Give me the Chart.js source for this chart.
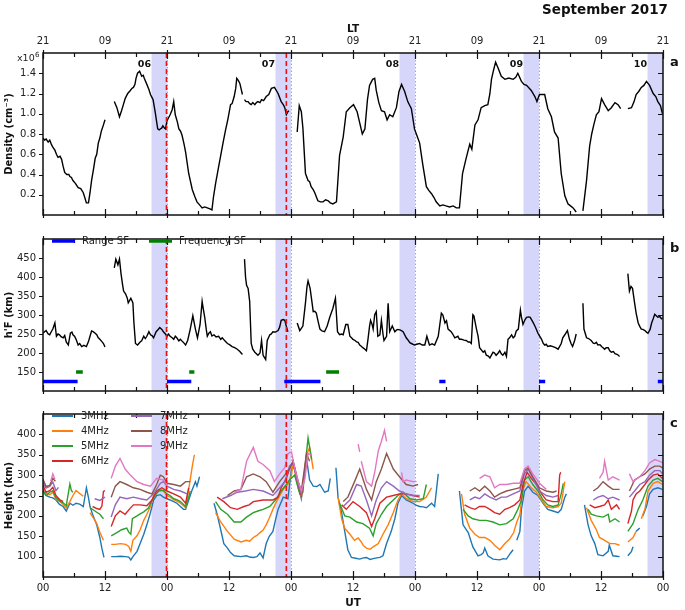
<!DOCTYPE html>
<html><head><meta charset="utf-8">
<script src="https://cdn.jsdelivr.net/npm/chart.js@4/dist/chart.umd.min.js"></script>
<style>
html,body{margin:0;padding:0;background:#fff;}
#wrap{position:relative;width:685px;height:610px;overflow:hidden;background:#fff;}
canvas{position:absolute;left:0;}
</style></head><body>
<div id="wrap">
<canvas id="cA" width="685" height="228" style="top:0px;width:685px;height:228px"></canvas>
<canvas id="cB" width="685" height="178" style="top:226px;width:685px;height:178px"></canvas>
<canvas id="cC" width="685" height="209" style="top:401px;width:685px;height:209px"></canvas>
</div>
<script>
// ---------------- DATA ----------------
const titleText = 'September 2017';
const dayLabels = ['06','07','08','09','10'];
const nightStartUT = 21;            // shaded band start each day (UT hour)
const eventHours = [23.9, 47.1];    // red dashed lines (UT hours from start)
const xTickHours = [0,12,24,36,48,60,72,84,96,108,120];

// Panel a: electron density (x10^6 cm^-3) [UT hour, value]; null = data gap
const density = [
[0,0.76],[0.3,0.74],[0.6,0.75],[1.0,0.72],[1.3,0.74],[1.6,0.70],[1.9,0.67],[2.3,0.64],[2.6,0.60],[2.9,0.57],[3.3,0.58],[3.6,0.55],[3.9,0.48],[4.2,0.42],[4.6,0.40],[5.0,0.40],[5.2,0.38],[5.5,0.37],[5.8,0.34],[6.3,0.31],[6.8,0.27],[7.3,0.26],[7.8,0.22],[8.1,0.17],[8.4,0.12],[8.8,0.12],[9.1,0.22],[9.4,0.34],[9.8,0.46],[10.1,0.56],[10.4,0.60],[10.7,0.71],[11.0,0.76],[11.3,0.83],[11.7,0.89],[12.0,0.94],[13.0,null],
[13.8,1.12],[14.3,1.06],[14.8,0.97],[15.2,1.03],[15.5,1.08],[15.9,1.15],[16.4,1.20],[16.9,1.23],[17.2,1.25],[17.5,1.26],[17.8,1.29],[18.0,1.35],[18.3,1.40],[18.7,1.42],[19.1,1.37],[19.4,1.38],[19.6,1.35],[20.1,1.29],[20.5,1.24],[20.8,1.19],[21.3,1.14],[21.7,1.02],[22.2,0.85],[22.5,0.84],[22.7,0.85],[23.0,0.86],[23.2,0.88],[23.5,0.86],[23.7,0.85],[24.0,0.93],[24.3,0.96],[24.6,0.99],[25.0,1.04],[25.3,1.12],[25.6,0.99],[26.0,0.92],[26.3,0.85],[26.6,0.83],[26.9,0.79],[27.3,0.70],[27.6,0.62],[28.2,0.41],[28.9,0.25],[29.4,0.18],[29.8,0.13],[30.3,0.10],[30.8,0.07],[31.3,0.08],[31.8,0.07],[32.3,0.06],[32.7,0.05],[33.0,0.18],[33.4,0.31],[33.9,0.45],[34.4,0.59],[34.8,0.70],[35.3,0.83],[35.8,0.95],[36.3,1.09],[36.6,1.10],[37.0,1.17],[37.3,1.25],[37.5,1.35],[37.8,1.33],[38.1,1.30],[38.6,1.19],[38.8,null],
[39.0,1.14],[39.3,1.12],[39.7,1.12],[40.0,1.10],[40.3,1.09],[40.6,1.11],[41.0,1.09],[41.3,1.11],[41.6,1.12],[42.0,1.11],[42.3,1.14],[42.7,1.13],[43.2,1.17],[43.7,1.19],[44.2,1.25],[44.8,1.26],[45.5,1.20],[46.1,1.12],[46.5,1.09],[46.8,1.06],[47.1,0.99],[47.4,1.02],[47.6,1.03],[48.4,null],
[49.2,0.82],[49.6,1.08],[50.0,1.02],[50.3,0.86],[50.8,0.41],[51.3,0.34],[51.6,0.33],[51.9,0.28],[52.3,0.25],[52.6,0.22],[53.2,0.14],[53.7,0.13],[54.2,0.13],[54.7,0.15],[55.2,0.14],[55.6,0.12],[56.1,0.11],[56.8,0.13],[57.4,0.59],[58.1,0.77],[58.7,1.02],[59.4,1.06],[60.1,1.09],[60.8,1.02],[61.3,0.91],[61.8,0.80],[62.3,0.85],[62.8,1.14],[63.2,1.28],[63.8,1.34],[64.2,1.35],[64.5,1.23],[65.0,1.11],[65.5,1.03],[66.1,1.02],[66.6,0.94],[67.1,0.99],[67.7,0.97],[68.4,1.06],[68.9,1.22],[69.4,1.29],[70.0,1.22],[70.6,1.12],[71.3,1.05],[71.9,0.85],[72.4,0.78],[72.9,0.71],[73.5,0.50],[74.2,0.28],[74.7,0.24],[75.2,0.21],[75.7,0.17],[76.1,0.13],[76.8,0.09],[77.4,0.10],[78.0,0.09],[78.7,0.08],[79.4,0.09],[80.0,0.07],[80.6,0.07],[81.2,0.41],[81.8,0.54],[82.3,0.64],[82.6,0.70],[83.0,0.65],[83.6,0.89],[84.2,0.94],[84.8,1.06],[85.5,1.08],[86.1,1.09],[86.5,1.20],[86.8,1.34],[87.2,1.43],[87.6,1.51],[88.1,1.45],[88.7,1.37],[89.4,1.34],[90.0,1.35],[90.3,1.35],[91.0,1.34],[91.5,1.36],[91.9,1.40],[92.6,1.32],[93.1,1.29],[93.6,1.28],[94.5,1.23],[95.2,1.17],[95.6,1.12],[96.1,1.19],[96.6,1.19],[97.1,1.19],[97.7,1.05],[98.4,0.97],[99.0,0.82],[99.7,0.76],[100.3,0.41],[101.0,0.19],[101.6,0.11],[102.1,0.09],[102.6,0.07],[103.2,0.03],[103.8,null],
[104.5,0.04],[105.2,0.34],[105.8,0.68],[106.2,0.80],[106.6,0.89],[107.1,0.99],[107.6,1.02],[108.1,1.15],[108.7,1.09],[109.4,1.03],[110.0,1.06],[110.7,1.11],[111.3,1.09],[111.8,1.05],[112.5,null],
[113.2,1.05],[113.9,1.06],[114.4,1.12],[114.8,1.19],[115.3,1.22],[115.8,1.26],[116.3,1.28],[116.8,1.32],[117.4,1.28],[118.1,1.20],[118.6,1.17],[119.0,1.12],[119.5,1.08],[119.9,1.00]
];

// Panel b: h'F (km)
const hF = [
[0,252],[0.3,256],[0.6,259],[1.0,250],[1.3,248],[1.6,256],[1.9,263],[2.3,279],[2.6,244],[2.9,250],[3.2,248],[3.5,243],[3.9,240],[4.2,246],[4.5,229],[4.9,221],[5.3,252],[5.6,255],[5.8,248],[6.1,244],[6.4,236],[6.8,221],[7.1,225],[7.5,217],[7.9,220],[8.4,217],[8.8,230],[9.1,244],[9.4,258],[9.7,256],[10.1,252],[10.4,248],[10.7,240],[11.0,236],[11.4,230],[11.7,225],[12.0,216],[13.0,null],
[13.8,424],[14.1,447],[14.5,432],[14.8,447],[15.1,409],[15.4,380],[15.6,363],[16.0,355],[16.3,345],[16.5,332],[17.0,344],[17.2,338],[17.4,332],[17.6,279],[17.9,225],[18.3,221],[18.8,229],[19.1,232],[19.5,244],[19.8,238],[20.1,244],[20.5,256],[20.8,248],[21.1,246],[21.4,240],[21.9,256],[22.3,262],[22.6,267],[23.0,262],[23.3,256],[23.7,250],[24.0,244],[24.3,250],[24.6,244],[25.0,240],[25.3,236],[25.6,244],[25.9,240],[26.3,232],[26.6,236],[27.0,230],[27.3,226],[27.6,221],[28.0,233],[28.5,263],[29.0,298],[29.5,263],[29.9,240],[30.4,275],[30.8,336],[31.0,318],[31.3,294],[31.6,262],[31.8,244],[32.1,252],[32.4,256],[32.7,245],[33.1,248],[33.5,242],[34.0,244],[34.4,236],[34.7,240],[35.2,232],[35.7,225],[36.1,222],[36.6,217],[37.1,214],[37.6,210],[38.1,204],[38.6,196],[38.8,null],
[39.0,447],[39.2,400],[39.4,378],[39.7,370],[40.0,336],[40.3,225],[40.6,210],[41.0,202],[41.3,198],[41.6,194],[42.0,200],[42.3,233],[42.6,194],[43.1,183],[43.4,233],[43.9,248],[44.2,250],[44.5,256],[45.0,255],[45.5,259],[45.8,268],[46.1,286],[46.5,288],[46.8,286],[47.1,270],[47.4,256],[48.3,null],
[49.2,279],[49.7,259],[50.3,271],[50.8,332],[51.1,375],[51.3,390],[51.7,370],[52.0,340],[52.3,309],[52.6,310],[52.9,305],[53.3,280],[53.6,263],[54.0,258],[54.5,256],[55.0,271],[55.5,294],[56.1,317],[56.6,344],[57.0,256],[57.4,248],[57.8,250],[58.1,248],[58.6,275],[59.0,275],[59.4,244],[59.7,240],[60.0,236],[60.4,233],[60.7,229],[61.0,228],[61.3,221],[61.6,218],[61.9,214],[62.3,210],[62.6,206],[62.9,236],[63.2,270],[63.4,286],[63.7,275],[63.9,263],[64.2,301],[64.5,309],[64.8,244],[65.2,248],[65.5,286],[65.8,250],[66.0,233],[66.5,244],[66.8,331],[67.1,256],[67.6,271],[68.1,256],[68.4,260],[68.7,262],[69.2,260],[69.7,256],[70.3,240],[70.6,235],[71.0,227],[71.3,225],[71.9,221],[72.3,223],[72.9,225],[73.4,221],[73.9,221],[74.3,244],[74.8,221],[75.3,224],[75.8,221],[76.5,244],[77.1,305],[77.4,300],[77.8,279],[78.1,285],[78.4,263],[79.0,256],[79.3,250],[79.7,240],[80.3,244],[80.6,236],[81.0,236],[81.5,234],[81.9,233],[82.3,229],[82.6,229],[82.9,225],[83.2,301],[83.4,298],[83.9,263],[84.2,245],[84.5,214],[85.2,202],[85.5,206],[85.8,194],[86.2,192],[86.5,187],[87.1,202],[87.4,200],[87.7,194],[88.1,200],[88.4,206],[88.7,198],[89.0,194],[89.4,202],[89.7,191],[90.0,236],[90.3,240],[90.7,248],[91.0,240],[91.3,244],[91.6,258],[92.0,263],[92.4,313],[92.6,295],[92.9,275],[93.3,288],[93.6,294],[94.0,295],[94.3,294],[94.8,282],[95.2,271],[95.5,262],[95.8,252],[96.1,245],[96.5,236],[96.8,226],[97.1,221],[97.4,223],[97.7,217],[98.2,219],[98.7,217],[99.2,214],[99.7,210],[100.3,225],[100.6,240],[101.0,248],[101.5,259],[101.9,236],[102.2,225],[102.5,217],[102.9,233],[103.2,250],[103.8,null],
[104.5,331],[104.7,263],[105.2,240],[105.6,238],[106.1,233],[106.5,226],[106.8,225],[107.1,228],[107.4,221],[107.8,222],[108.1,217],[108.4,214],[108.7,210],[109.0,214],[109.4,214],[109.7,206],[110.0,202],[110.4,204],[110.7,198],[111.2,196],[111.6,191],[112.4,null],
[113.2,409],[113.5,363],[113.8,375],[114.1,370],[114.5,332],[114.8,305],[115.2,279],[115.5,270],[115.8,263],[116.1,262],[116.5,259],[116.8,255],[117.1,252],[117.5,262],[117.8,279],[118.1,290],[118.4,302],[118.7,298],[119.0,294],[119.4,296],[119.7,290],[119.9,292]
];

// Spread-F occurrence intervals [start, end] (UT hours)
const rangeSF = [[0,6.7],[24.0,28.7],[46.7,53.7],[76.7,77.9],[96.0,97.2],[119.0,120]];
const freqSF  = [[6.4,7.7],[28.3,29.3],[54.8,57.3]];
const rangeSFLevel = 125, freqSFLevel = 150;

// Panel c: virtual heights (km) for each sounding frequency
const freqLabels = ['3MHz','4MHz','5MHz','6MHz','7MHz','8MHz','9MHz'];
const h3 = [
[0,261],[0.6,250],[1.3,246],[1.9,244],[2.5,239],[3.2,228],[3.9,223],[4.5,212],[5.2,231],[5.8,226],[6.4,231],[7.1,229],[7.8,223],[8.4,269],[8.8,245],[9.1,223],[9.7,200],[10.4,178],[11.0,147],[11.4,120],[11.8,98],[12.5,null],
[13.2,100],[14.0,100],[15.0,101],[16.0,100],[16.6,99],[17.0,92],[17.4,100],[18.2,113],[18.8,132],[19.5,155],[20.1,178],[20.8,208],[21.4,239],[22.0,250],[22.7,252],[23.3,246],[24.0,242],[24.6,239],[25.3,235],[25.9,231],[26.6,223],[27.2,216],[27.6,216],[28.2,239],[28.9,265],[29.5,284],[29.8,273],[30.3,296],[31.5,null],
[33.1,231],[33.7,204],[34.4,166],[35.0,132],[35.7,121],[36.3,110],[37.0,102],[38.3,100],[39.4,102],[40.0,99],[40.7,98],[41.4,100],[42.0,109],[42.6,97],[43.2,132],[43.8,150],[44.5,162],[45.0,190],[45.5,216],[46.5,246],[47.4,242],[48.1,315],[48.7,318],[49.4,273],[50.0,242],[50.5,290],[51.0,341],[51.6,288],[52.3,273],[53.0,272],[53.6,277],[54.5,258],[55.2,261],[55.6,292],[56.2,null],
[56.7,318],[57.1,246],[57.8,208],[58.4,162],[59.0,117],[59.7,98],[60.5,96],[61.3,94],[62.0,97],[62.6,98],[63.3,93],[63.9,95],[64.6,97],[65.2,98],[65.8,102],[66.5,132],[67.4,162],[68.1,193],[68.7,231],[69.4,250],[70.3,239],[71.0,235],[71.6,231],[72.3,226],[72.9,223],[73.6,222],[74.2,220],[75.2,231],[75.8,223],[76.5,303],[78,null],
[80.6,261],[81.3,178],[82.3,159],[83.2,124],[84.2,102],[84.8,105],[85.2,109],[85.5,121],[86.1,102],[87.1,94],[88.4,92],[89.1,95],[89.7,94],[90.5,109],[91.0,117],[91.4,null],
[91.7,140],[92.3,162],[92.6,216],[93.2,261],[93.9,273],[94.8,258],[95.8,250],[96.8,231],[97.7,216],[98.7,212],[99.7,208],[100.3,216],[101.0,246],[101.3,254],[103,null],
[104.8,227],[105.5,178],[106.1,151],[106.8,132],[107.4,105],[108.4,102],[109.4,113],[109.6,128],[110.3,102],[111.0,101],[111.6,100],[112.4,null],
[113.2,102],[113.9,113],[114.2,124],[114.5,null],[114.8,162],[115.5,170],[115.8,null],[116.1,200],[116.8,223],[117.4,254],[118.1,265],[119.0,269],[119.9,265]
];
const h4 = [
[0,265],[0.6,255],[1.3,252],[1.9,258],[2.5,240],[3.2,236],[3.9,228],[4.5,220],[5.2,235],[5.8,250],[6.4,262],[7.1,255],[7.8,248],[8.5,null],[9.1,208],[9.7,196],[10.4,181],[11.0,160],[11.7,140],[12.5,null],
[13.2,130],[14.0,130],[15.0,132],[16.0,130],[16.6,125],[17.0,113],[17.4,140],[18.2,151],[18.8,166],[19.5,189],[20.1,204],[20.8,223],[21.4,250],[22.0,260],[22.7,265],[23.3,261],[24.0,250],[24.6,246],[25.3,240],[25.9,236],[26.6,231],[27.2,225],[27.6,220],[28.2,265],[28.9,322],[29.3,350],[31,null],
[33.4,208],[34.4,185],[35.7,162],[37.0,143],[38.3,136],[39.4,140],[40.0,138],[40.7,147],[41.4,152],[42.0,159],[42.6,165],[43.2,178],[43.8,195],[44.5,216],[45.0,230],[45.5,242],[46.5,265],[47.4,277],[48.1,300],[48.4,330],[49.4,269],[50.0,246],[50.5,290],[51.0,349],[51.6,368],[52.3,315],[53,null],
[57.1,246],[57.8,193],[58.4,170],[59.4,155],[60.3,140],[61.0,146],[61.6,136],[62.0,127],[62.6,121],[63.3,118],[63.9,124],[64.9,132],[65.8,155],[66.8,178],[67.8,208],[68.7,239],[69.4,254],[70.3,242],[71.6,235],[72.9,235],[74.2,246],[75.2,269],[77,null],
[81.0,254],[81.6,204],[82.6,170],[83.6,155],[84.5,147],[85.5,147],[86.5,140],[87.4,128],[88.4,117],[89.4,132],[90.3,143],[91.1,159],[91.7,185],[92.3,204],[92.9,265],[93.5,284],[94.5,269],[95.5,258],[96.5,239],[97.4,223],[98.7,220],[99.7,223],[100.3,231],[101.0,284],[103,null],
[105.2,220],[106.1,189],[107.1,166],[107.7,147],[108.7,140],[109.7,132],[110.7,132],[111.6,128],[112.4,null],[113.2,136],[114.2,147],[114.8,162],[115.3,null],[115.8,193],[116.5,216],[117.1,261],[118.1,280],[119.0,284],[119.9,277]
];
const h5 = [
[0,262],[0.6,250],[1.3,258],[1.9,262],[2.5,245],[3.2,236],[3.9,232],[4.5,225],[5.2,278],[5.5,262],[5.8,258],[7,null],[9.1,220],[9.7,215],[10.4,209],[11.0,204],[11.7,193],[12.5,null],
[13.2,151],[14.3,159],[15.2,166],[16.2,170],[16.6,160],[17.0,155],[17.3,193],[18.2,200],[18.8,205],[19.5,210],[20.4,219],[21.4,246],[22.4,261],[23.3,263],[24.0,254],[24.6,250],[25.3,242],[25.9,240],[26.6,235],[27.6,223],[28.2,246],[28.5,261],[30,null],
[33.4,235],[34.4,216],[35.7,204],[37.0,185],[38.3,185],[39.4,197],[40.7,208],[41.6,212],[42.6,216],[43.9,223],[45.2,242],[46.1,261],[47.1,277],[47.7,288],[48.7,300],[49.7,254],[50.3,258],[50.8,330],[51.3,391],[52.0,338],[53,null],
[57.4,231],[58.4,200],[59.4,197],[60.7,185],[61.9,181],[63.2,170],[63.9,151],[64.5,181],[65.5,204],[66.5,223],[67.8,239],[68.7,250],[69.7,258],[71.0,242],[72.3,239],[73.6,242],[74.2,277],[76,null],
[81.3,216],[82.3,200],[83.2,193],[84.5,189],[85.8,189],[87.1,185],[88.4,178],[89.7,181],[91.0,193],[91.9,216],[92.6,239],[93.2,288],[93.9,296],[94.8,277],[95.8,261],[96.8,239],[97.7,227],[98.7,223],[99.7,227],[100.3,254],[100.7,280],[103,null],
[105.5,216],[106.1,204],[107.1,200],[108.4,197],[109.4,204],[109.7,185],[110.7,193],[111.6,185],[112.4,null],[113.2,162],[114.2,181],[115.2,216],[116.1,239],[117.1,273],[118.1,288],[119.0,292],[119.9,284]
];
const h6 = [
[0,275],[0.6,258],[1.3,262],[1.9,270],[2.5,250],[3.2,240],[3.9,235],[5,null],[9.6,223],[10.4,218],[11.0,216],[11.4,224],[11.7,260],[12.0,262],[12.6,null],
[13.2,174],[14.0,200],[14.9,212],[15.9,204],[16.9,219],[17.5,227],[18.8,227],[20.1,225],[21.1,239],[22.0,261],[23.0,269],[24.0,261],[25.3,254],[26.6,246],[27.6,231],[28.2,269],[30,null],
[33.7,246],[35.0,235],[36.3,220],[37.6,216],[38.9,223],[39.9,227],[40.7,235],[42.6,239],[44.5,239],[45.5,246],[46.1,269],[47.1,292],[47.7,315],[48.4,334],[49.4,277],[50.0,250],[51.0,340],[52,null],
[57.8,227],[58.7,216],[60.0,235],[61.3,223],[62.6,208],[63.6,174],[64.2,193],[65.2,231],[66.5,246],[67.8,250],[69.0,254],[70.3,254],[71.6,250],[72.9,246],[75,null],
[81.6,227],[82.6,220],[83.6,216],[84.5,223],[85.5,223],[86.5,216],[87.4,208],[88.4,204],[89.4,216],[90.3,220],[91.3,227],[92.3,239],[92.9,277],[93.7,307],[94.5,292],[95.5,277],[96.5,254],[97.4,239],[98.7,235],[99.7,235],[100.0,300],[100.2,307],[103,null],
[105.8,227],[106.8,220],[107.7,223],[108.7,227],[109.4,239],[110.0,216],[111.0,227],[111.6,216],[112.4,null],[113.2,181],[113.9,212],[114.2,239],[114.8,254],[115.5,261],[116.5,277],[117.1,288],[118.1,300],[119.0,303],[119.9,292]
];
const h7 = [
[0,282],[0.6,268],[1.3,272],[1.9,283],[2.5,262],[3.0,270],[4,null],[10.0,242],[11.0,238],[12.0,246],[12.6,null],
[13.2,197],[14.0,227],[14.9,246],[16.2,242],[17.5,246],[18.8,242],[20.1,239],[21.4,254],[22.7,280],[23.3,284],[24.0,273],[25.3,265],[26.6,261],[27.9,254],[30,null],
[34.7,242],[36.3,250],[37.6,258],[39.2,261],[40.7,265],[42.6,261],[44.5,250],[45.8,269],[46.8,284],[47.7,322],[48.4,330],[49.4,277],[50.0,254],[51.0,340],[52,null],
[58.1,223],[59.4,239],[60.7,277],[61.6,273],[62.6,239],[63.6,200],[64.5,239],[65.5,269],[66.5,284],[67.8,273],[69.0,261],[70.3,254],[71.6,250],[72.9,250],[75,null],
[82.6,239],[83.6,246],[84.5,242],[85.5,254],[86.5,246],[87.7,239],[88.7,246],[89.7,246],[91.0,254],[92.3,261],[93.2,303],[93.9,315],[94.8,292],[96.1,261],[97.4,250],[98.7,246],[99.7,250],[103,null],
[106.5,239],[107.4,246],[108.4,250],[109.4,242],[110.3,246],[111.6,239],[112.5,null],[113.5,246],[114.5,261],[115.5,277],[116.5,284],[117.4,300],[118.4,311],[119.4,311],[119.9,303]
];
const h8 = [
[0,290],[0.6,272],[1.3,275],[1.9,292],[2.4,285],[4,null],
[13.2,246],[14.0,273],[14.9,284],[16.2,277],[17.5,269],[18.8,265],[20.1,258],[21.1,254],[22.0,277],[22.7,300],[23.3,296],[24.0,280],[25.3,277],[26.6,273],[27.6,284],[28.5,284],[30,null],
[35.7,250],[37.0,261],[38.3,265],[39.4,296],[40.7,303],[42.0,296],[43.2,284],[44.5,258],[45.8,284],[46.8,300],[47.7,315],[48.4,334],[49.4,284],[50.0,261],[51.0,353],[51.6,334],[53,null],
[58.1,235],[59.0,246],[60.3,284],[61.3,315],[62.6,265],[63.6,239],[64.5,284],[65.5,315],[66.5,353],[67.8,315],[69.0,296],[70.3,277],[71.6,273],[72.6,277],[75,null],
[82.6,261],[83.6,269],[84.5,261],[85.5,273],[86.5,261],[87.4,246],[88.4,254],[89.7,261],[91.0,265],[92.3,269],[93.2,311],[93.9,318],[94.8,296],[96.1,269],[97.4,261],[98.7,258],[99.4,261],[103,null],
[106.5,261],[107.4,269],[108.4,284],[109.4,273],[110.3,265],[111.6,265],[112.5,null],[113.5,261],[114.5,288],[115.5,296],[116.5,303],[117.4,315],[118.4,322],[119.4,322],[119.9,318]
];
const h9 = [
[1.5,285],[1.9,303],[2.3,290],[4,null],
[13.2,292],[14.0,322],[14.9,341],[15.9,315],[16.9,300],[18.2,284],[19.5,277],[20.8,273],[22.0,292],[23.3,288],[24.0,277],[26,null],
[37.0,258],[38.3,265],[39.4,334],[40.7,368],[41.6,334],[42.6,326],[43.9,311],[44.8,284],[45.8,303],[46.8,318],[47.4,353],[48.1,357],[48.7,318],[49.4,284],[50.0,261],[50.7,292],[51.3,353],[52.0,349],[55,null],
[61.0,376],[61.3,357],[61.45,null],[61.6,334],[62.6,284],[63.6,273],[64.2,307],[64.9,360],[65.5,383],[66.1,410],[66.5,383],[67.5,null],[69.4,307],[69.7,284],[70.3,288],[71.6,284],[72.3,284],[75,null],
[84.5,292],[85.5,300],[86.5,296],[87.4,269],[88.4,277],[89.7,277],[91.0,280],[92.3,280],[93.2,315],[93.9,322],[94.8,303],[96.1,280],[97.4,265],[103,null],
[107.7,292],[108.4,307],[108.7,334],[109.4,288],[110.3,296],[111.6,288],[112.5,null],[113.5,303],[114.2,284],[115.5,296],[116.5,311],[117.4,330],[118.4,338],[119.4,334],[119.9,330]
];
const heightSeries = [h3,h4,h5,h6,h7,h8,h9];

// ---------------- STYLE / HELPERS ----------------
const FONT = 'DejaVu Sans';
Chart.defaults.font.family = FONT;
Chart.defaults.color = '#222';
const freqColors = ['#1f77b4','#ff7f0e','#2ca02c','#d62728','#9467bd','#8c564b','#e377c2'];
const toXY = arr => arr.map(p => ({x: p[0], y: p[1]}));
const intervalsXY = (iv, level) => {
  const out = [];
  iv.forEach((s, i) => { if (i) out.push({x: (iv[i-1][1] + s[0]) / 2, y: null}); out.push({x: s[0], y: level}, {x: s[1], y: level}); });
  return out;
};
const pad2 = n => String(n).padStart(2, '0');
const tickFont = {family: FONT, size: 10};
const titleFont = {family: FONT, size: 10, weight: 'bold'};

function yAxis(min, max, step, title) {
  return {
    min, max,
    afterFit(s) { s.width = 43; },
    grid: {display: false, drawTicks: false}, border: {display: false},
    ticks: {stepSize: step, padding: 7, color: '#222', font: tickFont,
      callback: v => (Math.abs(v - min) < 1e-6 || Math.abs(v - max) < 1e-6) ? '' : (step < 1 ? v.toFixed(1) : String(Math.round(v)))},
    title: {display: true, text: title, font: titleFont, color: '#111', padding: {top: 3, bottom: 0}}
  };
}
function xAxis(extra) {
  return Object.assign({
    type: 'linear', min: 0, max: 120,
    grid: {display: false, drawTicks: false}, border: {display: false},
    afterBuildTicks(s) { s.ticks = xTickHours.map(v => ({value: v})); }
  }, extra);
}

const decor = {
  id: 'decor',
  beforeDatasetsDraw(chart) {
    const {ctx, chartArea: a, scales: {x}} = chart;
    ctx.save();
    ctx.beginPath(); ctx.rect(a.left, a.top, a.right - a.left, a.bottom - a.top); ctx.clip();
    ctx.fillStyle = 'rgba(118,118,238,0.30)';
    dayLabels.forEach((d, i) => {
      const x0 = x.getPixelForValue(nightStartUT + 24 * i), x1 = x.getPixelForValue(24 + 24 * i);
      ctx.fillRect(x0, a.top, x1 - x0, a.bottom - a.top);
    });
    ctx.strokeStyle = '#a8a8a8'; ctx.lineWidth = 1; ctx.setLineDash([1.5, 2]);
    dayLabels.forEach((d, i) => {
      const px = Math.round(x.getPixelForValue(24 + 24 * i)) + 0.5;
      ctx.beginPath(); ctx.moveTo(px, a.top); ctx.lineTo(px, a.bottom); ctx.stroke();
    });
    ctx.restore();
  },
  afterDatasetsDraw(chart) {
    const {ctx, chartArea: a, scales: {x}} = chart;
    ctx.save();
    ctx.strokeStyle = '#ee1111'; ctx.lineWidth = 1.6; ctx.setLineDash([5, 3]);
    eventHours.forEach(h => {
      const px = x.getPixelForValue(h);
      ctx.beginPath(); ctx.moveTo(px, a.top); ctx.lineTo(px, a.bottom); ctx.stroke();
    });
    ctx.restore();
  },
  afterDraw(chart, args, opts) {
    const {ctx, chartArea: a, scales: {x, y}} = chart;
    ctx.save();
    ctx.strokeStyle = '#111'; ctx.lineWidth = 1.5; ctx.setLineDash([]);
    ctx.strokeRect(a.left, a.top, a.right - a.left, a.bottom - a.top);
    ctx.lineWidth = 1.2;
    for (let h = 0; h <= 120; h += 6) {
      const px = Math.round(x.getPixelForValue(h)) + 0.5;
      const major = h % 12 === 0;
      const inL = major ? 6 : 4, outL = major ? 3 : 0;
      ctx.beginPath();
      ctx.moveTo(px, a.top - outL); ctx.lineTo(px, a.top + inL);
      ctx.moveTo(px, a.bottom + outL); ctx.lineTo(px, a.bottom - inL);
      ctx.stroke();
    }
    y.ticks.forEach(t => {
      if (Math.abs(t.value - y.min) < 1e-6 || Math.abs(t.value - y.max) < 1e-6) return;
      const py = Math.round(y.getPixelForValue(t.value)) + 0.5;
      ctx.beginPath();
      ctx.moveTo(a.left - 4, py); ctx.lineTo(a.left, py);
      ctx.moveTo(a.right - 5, py); ctx.lineTo(a.right, py);
      ctx.stroke();
    });
    ctx.fillStyle = '#111'; ctx.textBaseline = 'middle'; ctx.textAlign = 'left';
    ctx.font = `bold 13px ${FONT}`;
    ctx.fillText(opts.letter, a.right + 7, a.top + 10);
    if (opts.extra) opts.extra(chart);
    ctx.restore();
  }
};

function extraA(chart) {
  const {ctx, chartArea: a, scales: {x}} = chart;
  ctx.fillStyle = '#111'; ctx.textBaseline = 'middle';
  ctx.font = `bold 9.5px ${FONT}`; ctx.textAlign = 'right';
  dayLabels.forEach((d, i) => ctx.fillText(d, x.getPixelForValue(nightStartUT + 24 * i) - 0.5, a.top + 12));
  ctx.font = `bold 13.5px ${FONT}`; ctx.textAlign = 'right';
  ctx.fillText(titleText, 668, 10);
  ctx.font = `9.5px ${FONT}`; ctx.textAlign = 'left'; ctx.fillStyle = '#222';
  ctx.fillText('x10', 17, 59);
  ctx.font = `7px ${FONT}`;
  ctx.fillText('6', 35, 55);
}
function extraB(chart) {
  const {ctx} = chart;
  const items = chart.data.datasets.filter(d => d.legendText);
  const xs = [52, 149];
  ctx.font = `10px ${FONT}`; ctx.textBaseline = 'middle'; ctx.textAlign = 'left';
  items.forEach((d, i) => {
    ctx.strokeStyle = d.borderColor; ctx.lineWidth = 3.5;
    ctx.beginPath(); ctx.moveTo(xs[i], 15); ctx.lineTo(xs[i] + 23, 15); ctx.stroke();
    ctx.fillStyle = '#222'; ctx.fillText(d.legendText, xs[i] + 30, 15.5);
  });
}
function extraC(chart) {
  const {ctx} = chart;
  ctx.font = `10px ${FONT}`; ctx.textBaseline = 'middle'; ctx.textAlign = 'left';
  chart.data.datasets.forEach((d, i) => {
    const col = i < 4 ? 0 : 1, row = i < 4 ? i : i - 4;
    const lx = col ? 131 : 52, ly = 15 + row * 15;
    ctx.strokeStyle = d.borderColor; ctx.lineWidth = 2;
    ctx.beginPath(); ctx.moveTo(lx, ly); ctx.lineTo(lx + 21, ly); ctx.stroke();
    ctx.fillStyle = '#222'; ctx.fillText(d.label, lx + 29, ly + 0.5);
  });
}

const baseOpts = {
  responsive: false, animation: false, events: [],
  plugins: {legend: {display: false}, tooltip: {enabled: false}},
  elements: {point: {radius: 0}, line: {tension: 0}}
};
const lineDs = (data, color, w) => ({data, borderColor: color, borderWidth: w, pointRadius: 0, spanGaps: false, fill: false});

// ---------------- CHART A ----------------
new Chart(document.getElementById('cA'), {
  type: 'line',
  data: {datasets: [lineDs(toXY(density), '#000', 1.4)]},
  options: Object.assign({}, baseOpts, {
    layout: {padding: {left: 0, right: 22, top: 0, bottom: 1}},
    plugins: Object.assign({}, baseOpts.plugins, {decor: {letter: 'a', extra: extraA}}),
    scales: {
      x: xAxis({position: 'top', afterFit(s) { s.height = 53; },
        ticks: {padding: 6, color: '#222', font: tickFont, maxRotation: 0, autoSkip: false,
          callback: v => pad2(((v - 3) % 24 + 24) % 24)},
        title: {display: true, text: 'LT', font: {family: FONT, size: 10.5, weight: 'bold'}, color: '#111', padding: {top: 23, bottom: 0}}}),
      y: yAxis(0, 1.6, 0.2, 'Density (cm⁻³)')
    }
  }),
  plugins: [decor]
});

// ---------------- CHART B ----------------
new Chart(document.getElementById('cB'), {
  type: 'line',
  data: {datasets: [
    lineDs(toXY(hF), '#000', 1.4),
    Object.assign(lineDs(intervalsXY(rangeSF, rangeSFLevel), '#0000ff', 3.5), {legendText: 'Range SF', borderCapStyle: 'butt'}),
    Object.assign(lineDs(intervalsXY(freqSF, freqSFLevel), '#008000', 3.5), {legendText: 'Frequency SF', borderCapStyle: 'butt'})
  ]},
  options: Object.assign({}, baseOpts, {
    layout: {padding: {left: 0, right: 22, top: 2, bottom: 2}},
    plugins: Object.assign({}, baseOpts.plugins, {decor: {letter: 'b', extra: extraB}}),
    scales: {
      x: xAxis({display: false}),
      y: yAxis(100, 500, 50, "h'F (km)")
    }
  }),
  plugins: [decor]
});

// ---------------- CHART C ----------------
new Chart(document.getElementById('cC'), {
  type: 'line',
  data: {datasets: heightSeries.map((s, i) => Object.assign(lineDs(toXY(s), freqColors[i], 1.4), {label: freqLabels[i], order: heightSeries.length - i}))},
  options: Object.assign({}, baseOpts, {
    layout: {padding: {left: 0, right: 22, top: 2, bottom: 0}},
    plugins: Object.assign({}, baseOpts.plugins, {decor: {letter: 'c', extra: extraC}}),
    scales: {
      x: xAxis({position: 'bottom', afterFit(s) { s.height = 33; },
        ticks: {padding: 5, color: '#222', font: tickFont, maxRotation: 0, autoSkip: false,
          callback: v => pad2(v % 24)},
        title: {display: true, text: 'UT', font: {family: FONT, size: 10.5, weight: 'bold'}, color: '#111', padding: {top: 0, bottom: 0}}}),
      y: yAxis(50, 450, 50, 'Height (km)')
    }
  }),
  plugins: [decor]
});
</script>
</body></html>
